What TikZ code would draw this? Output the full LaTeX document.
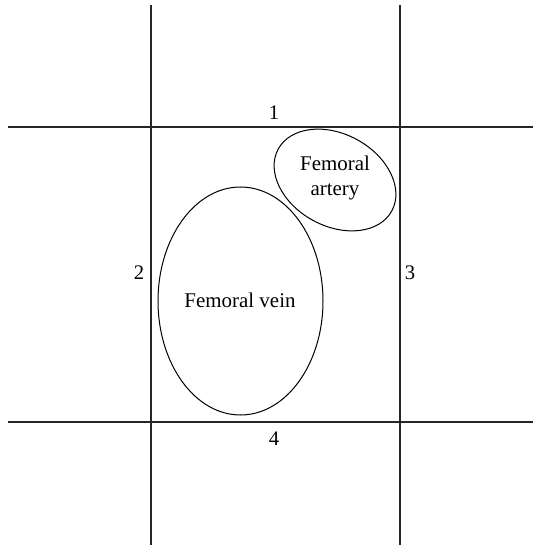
\documentclass[tikz,border=0pt]{standalone}
\usepackage{fontspec}
\setmainfont{Liberation Serif}
\usetikzlibrary{shapes.geometric}
\begin{document}
\begin{tikzpicture}[x=0.75pt,y=-0.75pt,
  gridline/.style={line width=1pt,black!85},
  vessel/.style={draw,ellipse,line width=0.75pt,inner sep=0pt},
  lbl/.style={font=\fontsize{15.7}{19}\selectfont,inner sep=0pt,align=center},
  num/.style={font=\fontsize{15.5}{18}\selectfont,inner sep=0pt}]
\useasboundingbox (0,0) rectangle (533,545);
% grid lines
\coordinate (v1t) at (151,5);  \coordinate (v1b) at (151,545);
\coordinate (v2t) at (400,5);  \coordinate (v2b) at (400,545);
\coordinate (h1l) at (8,127);  \coordinate (h1r) at (533,127);
\coordinate (h2l) at (8,422);  \coordinate (h2r) at (533,422);
\draw[gridline] (v1t) -- (v1b);
\draw[gridline] (v2t) -- (v2b);
\draw[gridline] (h1l) -- (h1r);
\draw[gridline] (h2l) -- (h2r);
% vessels
\node[vessel,minimum width=123.75pt,minimum height=171pt] (vein) at (240.5,301) {};
\node[lbl] (veintxt) at (240,300) {Femoral vein};
\node[vessel,minimum width=97pt,minimum height=69pt,rotate=-28.6] (artery) at (335,180) {};
\node[lbl] (arterytxt) at (335,178) {Femoral\\artery};
% numbers
\node[num] (n1) at (274,113) {1};
\node[num] (n2) at (139,273) {2};
\node[num] (n3) at (410,273) {3};
\node[num] (n4) at (274,439) {4};
\end{tikzpicture}
\end{document}
